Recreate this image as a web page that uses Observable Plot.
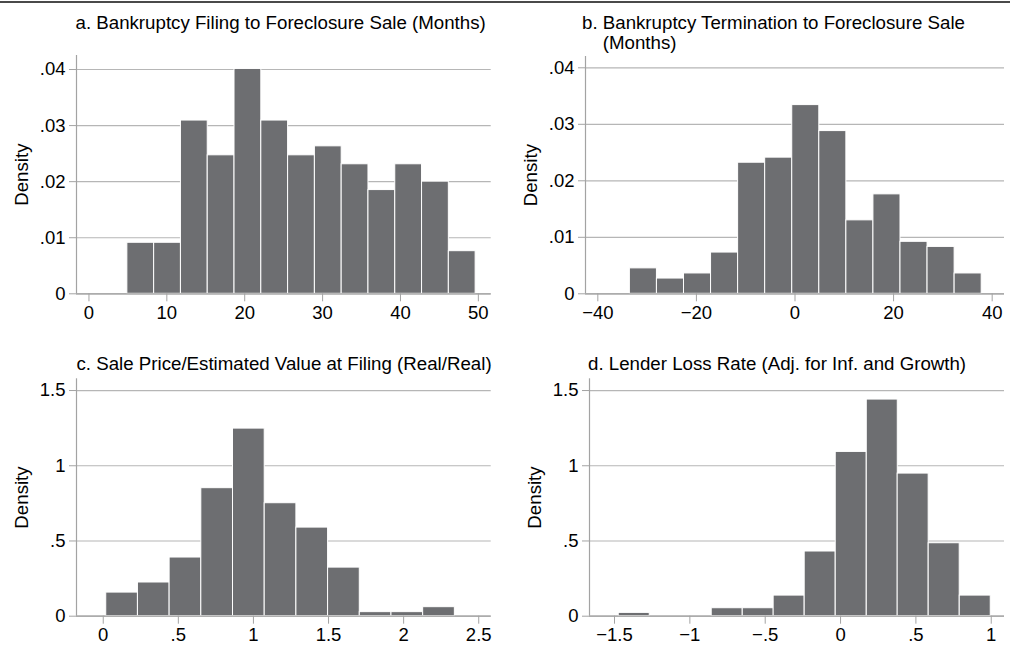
<!DOCTYPE html>
<html>
<head>
<meta charset="utf-8">
<script src="https://cdn.jsdelivr.net/npm/d3@7"></script>
<script src="https://cdn.jsdelivr.net/npm/@observablehq/plot@0.6"></script>
<style>
  html, body { margin: 0; padding: 0; background: #fff; }
  #chart { position: relative; width: 1010px; height: 648px; overflow: hidden; background: #fff; }
  #topline { position: absolute; left: 0; top: 1px; width: 1010px; height: 2px; background: #4a4a4a; }
  .panel { position: absolute; }
</style>
</head>
<body>
<div id="chart"><div id="topline"></div></div>
<script>
// ---------- Data ----------
// Panel a: Bankruptcy Filing to Foreclosure Sale (Months)
const aTitle = "a. Bankruptcy Filing to Foreclosure Sale (Months)";
const aBinLower = [4.93, 8.37, 11.81, 15.25, 18.69, 22.13, 25.57, 29.01, 32.45, 35.89, 39.33, 42.77, 46.21];
const aBinWidth = 3.44;
const aDensity = [0.0091, 0.0091, 0.0309, 0.0247, 0.0401, 0.0309, 0.0247, 0.0263, 0.0231, 0.0185, 0.0231, 0.0200, 0.0076];
const aXTicks = [0, 10, 20, 30, 40, 50];
const aXLabels = ["0", "10", "20", "30", "40", "50"];
const aYTicks = [0, 0.01, 0.02, 0.03, 0.04];
const aYLabels = ["0", ".01", ".02", ".03", ".04"];

// Panel b: Bankruptcy Termination to Foreclosure Sale (Months)
const bTitle = "b. Bankruptcy Termination to Foreclosure Sale\n\u00a0\u00a0\u00a0\u00a0(Months)";
const bBinLower = [-33.5, -28.01, -22.52, -17.03, -11.54, -6.05, -0.56, 4.93, 10.42, 15.91, 21.40, 26.89, 32.38];
const bBinWidth = 5.49;
const bDensity = [0.0045, 0.0027, 0.0036, 0.0073, 0.0232, 0.0241, 0.0334, 0.0288, 0.0130, 0.0176, 0.0092, 0.0083, 0.0036];
const bXTicks = [-40, -20, 0, 20, 40];
const bXLabels = ["\u221240", "\u221220", "0", "20", "40"];
const bYTicks = [0, 0.01, 0.02, 0.03, 0.04];
const bYLabels = ["0", ".01", ".02", ".03", ".04"];

// Panel c: Sale Price/Estimated Value at Filing (Real/Real)
const cTitle = "c. Sale Price/Estimated Value at Filing (Real/Real)";
const cBinLower = [0.020, 0.231, 0.442, 0.653, 0.864, 1.075, 1.286, 1.497, 1.708, 1.919, 2.130];
const cBinWidth = 0.211;
const cDensity = [0.157, 0.224, 0.390, 0.851, 1.247, 0.751, 0.589, 0.323, 0.027, 0.027, 0.060];
const cXTicks = [0, 0.5, 1, 1.5, 2, 2.5];
const cXLabels = ["0", ".5", "1", "1.5", "2", "2.5"];
const cYTicks = [0, 0.5, 1, 1.5];
const cYLabels = ["0", ".5", "1", "1.5"];

// Panel d: Lender Loss Rate (Adj. for Inf. and Growth)
const dTitle = "d. Lender Loss Rate (Adj. for Inf. and Growth)";
const dBinLower = [-1.472, -0.855, -0.649, -0.444, -0.238, -0.032, 0.174, 0.379, 0.585, 0.791];
const dBinWidth = 0.2057;
const dDensity = [0.022, 0.053, 0.053, 0.137, 0.430, 1.092, 1.440, 0.948, 0.485, 0.137];
const dXTicks = [-1.5, -1, -0.5, 0, 0.5, 1];
const dXLabels = ["\u22121.5", "\u22121", "\u2212.5", "0", ".5", "1"];
const dYTicks = [0, 0.5, 1, 1.5];
const dYLabels = ["0", ".5", "1", "1.5"];

const yTitle = "Density";

// ---------- Styling ----------
const FONT = "'Liberation Sans', Arial, Helvetica, sans-serif";
const BAR = "#6d6e71";
const AXIS = "#a3a3a3";
const GRID = "#b6b6b6";
const TICK_FS = 18.5;
const TITLE_FS = 18.7;

function makePanel(cfg) {
  const rows = cfg.lower.map((l, i) => ({x1: l, x2: l + cfg.width, y1: 0, y2: cfg.dens[i]}));
  const xl = new Map(cfg.xTicks.map((t, i) => [t, cfg.xLabels[i]]));
  const yl = new Map(cfg.yTicks.map((t, i) => [t, cfg.yLabels[i]]));
  return Plot.plot({
    width: 505,
    height: cfg.height,
    marginTop: cfg.mt, marginBottom: cfg.mb, marginLeft: cfg.ml, marginRight: cfg.mr,
    style: {fontFamily: FONT, fontSize: TICK_FS + "px", background: "transparent", color: "black", overflow: "visible"},
    x: {domain: cfg.xDomain},
    y: {domain: cfg.yDomain},
    marks: [
      Plot.gridY(cfg.yTicks, {stroke: GRID, strokeOpacity: 1, strokeWidth: 1.2}),
      Plot.rect(rows, {x1: "x1", x2: "x2", y1: "y1", y2: "y2", fill: BAR, stroke: "white", strokeWidth: 1}),
      Plot.ruleX([cfg.xDomain[0]], {stroke: AXIS, strokeWidth: 1.2}),
      Plot.ruleY([cfg.yDomain[0]], {stroke: AXIS, strokeWidth: 1.2}),
      Plot.axisX(cfg.xTicks, {tickFormat: d => xl.get(d), tickSize: 8, tickPadding: 4, stroke: AXIS, fill: "black", fontSize: TICK_FS, label: null}),
      Plot.axisY(cfg.yTicks, {tickFormat: d => yl.get(d), tickSize: 7, tickPadding: 4, stroke: AXIS, fill: "black", fontSize: TICK_FS, label: null}),
      Plot.text([yTitle], {frameAnchor: "left", rotate: -90, dx: -54, textAnchor: "middle", lineAnchor: "middle", fontSize: TITLE_FS, fill: "black"}),
      Plot.text([cfg.title], {frameAnchor: "top-left", textAnchor: "start", lineAnchor: "bottom", dx: cfg.tdx, dy: cfg.tdy, lineHeight: 1.05, fontSize: TITLE_FS, fill: "black"})
    ]
  });
}

const panels = [
  {left: 0, top: 0, height: 325, mt: 55, mb: 31.7, ml: 76, mr: 14.3,
   xDomain: [-1.6, 51.65], yDomain: [0, 0.0425],
   lower: aBinLower, width: aBinWidth, dens: aDensity,
   xTicks: aXTicks, xLabels: aXLabels, yTicks: aYTicks, yLabels: aYLabels,
   title: aTitle, tdx: -1, tdy: -27},
  {left: 505, top: 0, height: 325, mt: 56, mb: 31.7, ml: 80, mr: 6,
   xDomain: [-42.5, 42.5], yDomain: [0, 0.042],
   lower: bBinLower, width: bBinWidth, dens: bDensity,
   xTicks: bXTicks, xLabels: bXLabels, yTicks: bYTicks, yLabels: bYLabels,
   title: bTitle, tdx: -3.5, tdy: -8},
  {left: 0, top: 325, height: 323, mt: 53.3, mb: 32.3, ml: 76, mr: 14.3,
   xDomain: [-0.178, 2.583], yDomain: [0, 1.578],
   lower: cBinLower, width: cBinWidth, dens: cDensity,
   xTicks: cXTicks, xLabels: cXLabels, yTicks: cYTicks, yLabels: cYLabels,
   title: cTitle, tdx: 0, tdy: -8.5},
  {left: 505, top: 325, height: 323, mt: 53.3, mb: 32.3, ml: 84, mr: 6,
   xDomain: [-1.666, 1.088], yDomain: [0, 1.578],
   lower: dBinLower, width: dBinWidth, dens: dDensity,
   xTicks: dXTicks, xLabels: dXLabels, yTicks: dYTicks, yLabels: dYLabels,
   title: dTitle, tdx: -1.5, tdy: -8.5}
];

const chart = document.getElementById("chart");
for (const p of panels) {
  const wrap = document.createElement("div");
  wrap.className = "panel";
  wrap.style.left = p.left + "px";
  wrap.style.top = p.top + "px";
  wrap.appendChild(makePanel(p));
  chart.appendChild(wrap);
}
</script>
</body>
</html>
